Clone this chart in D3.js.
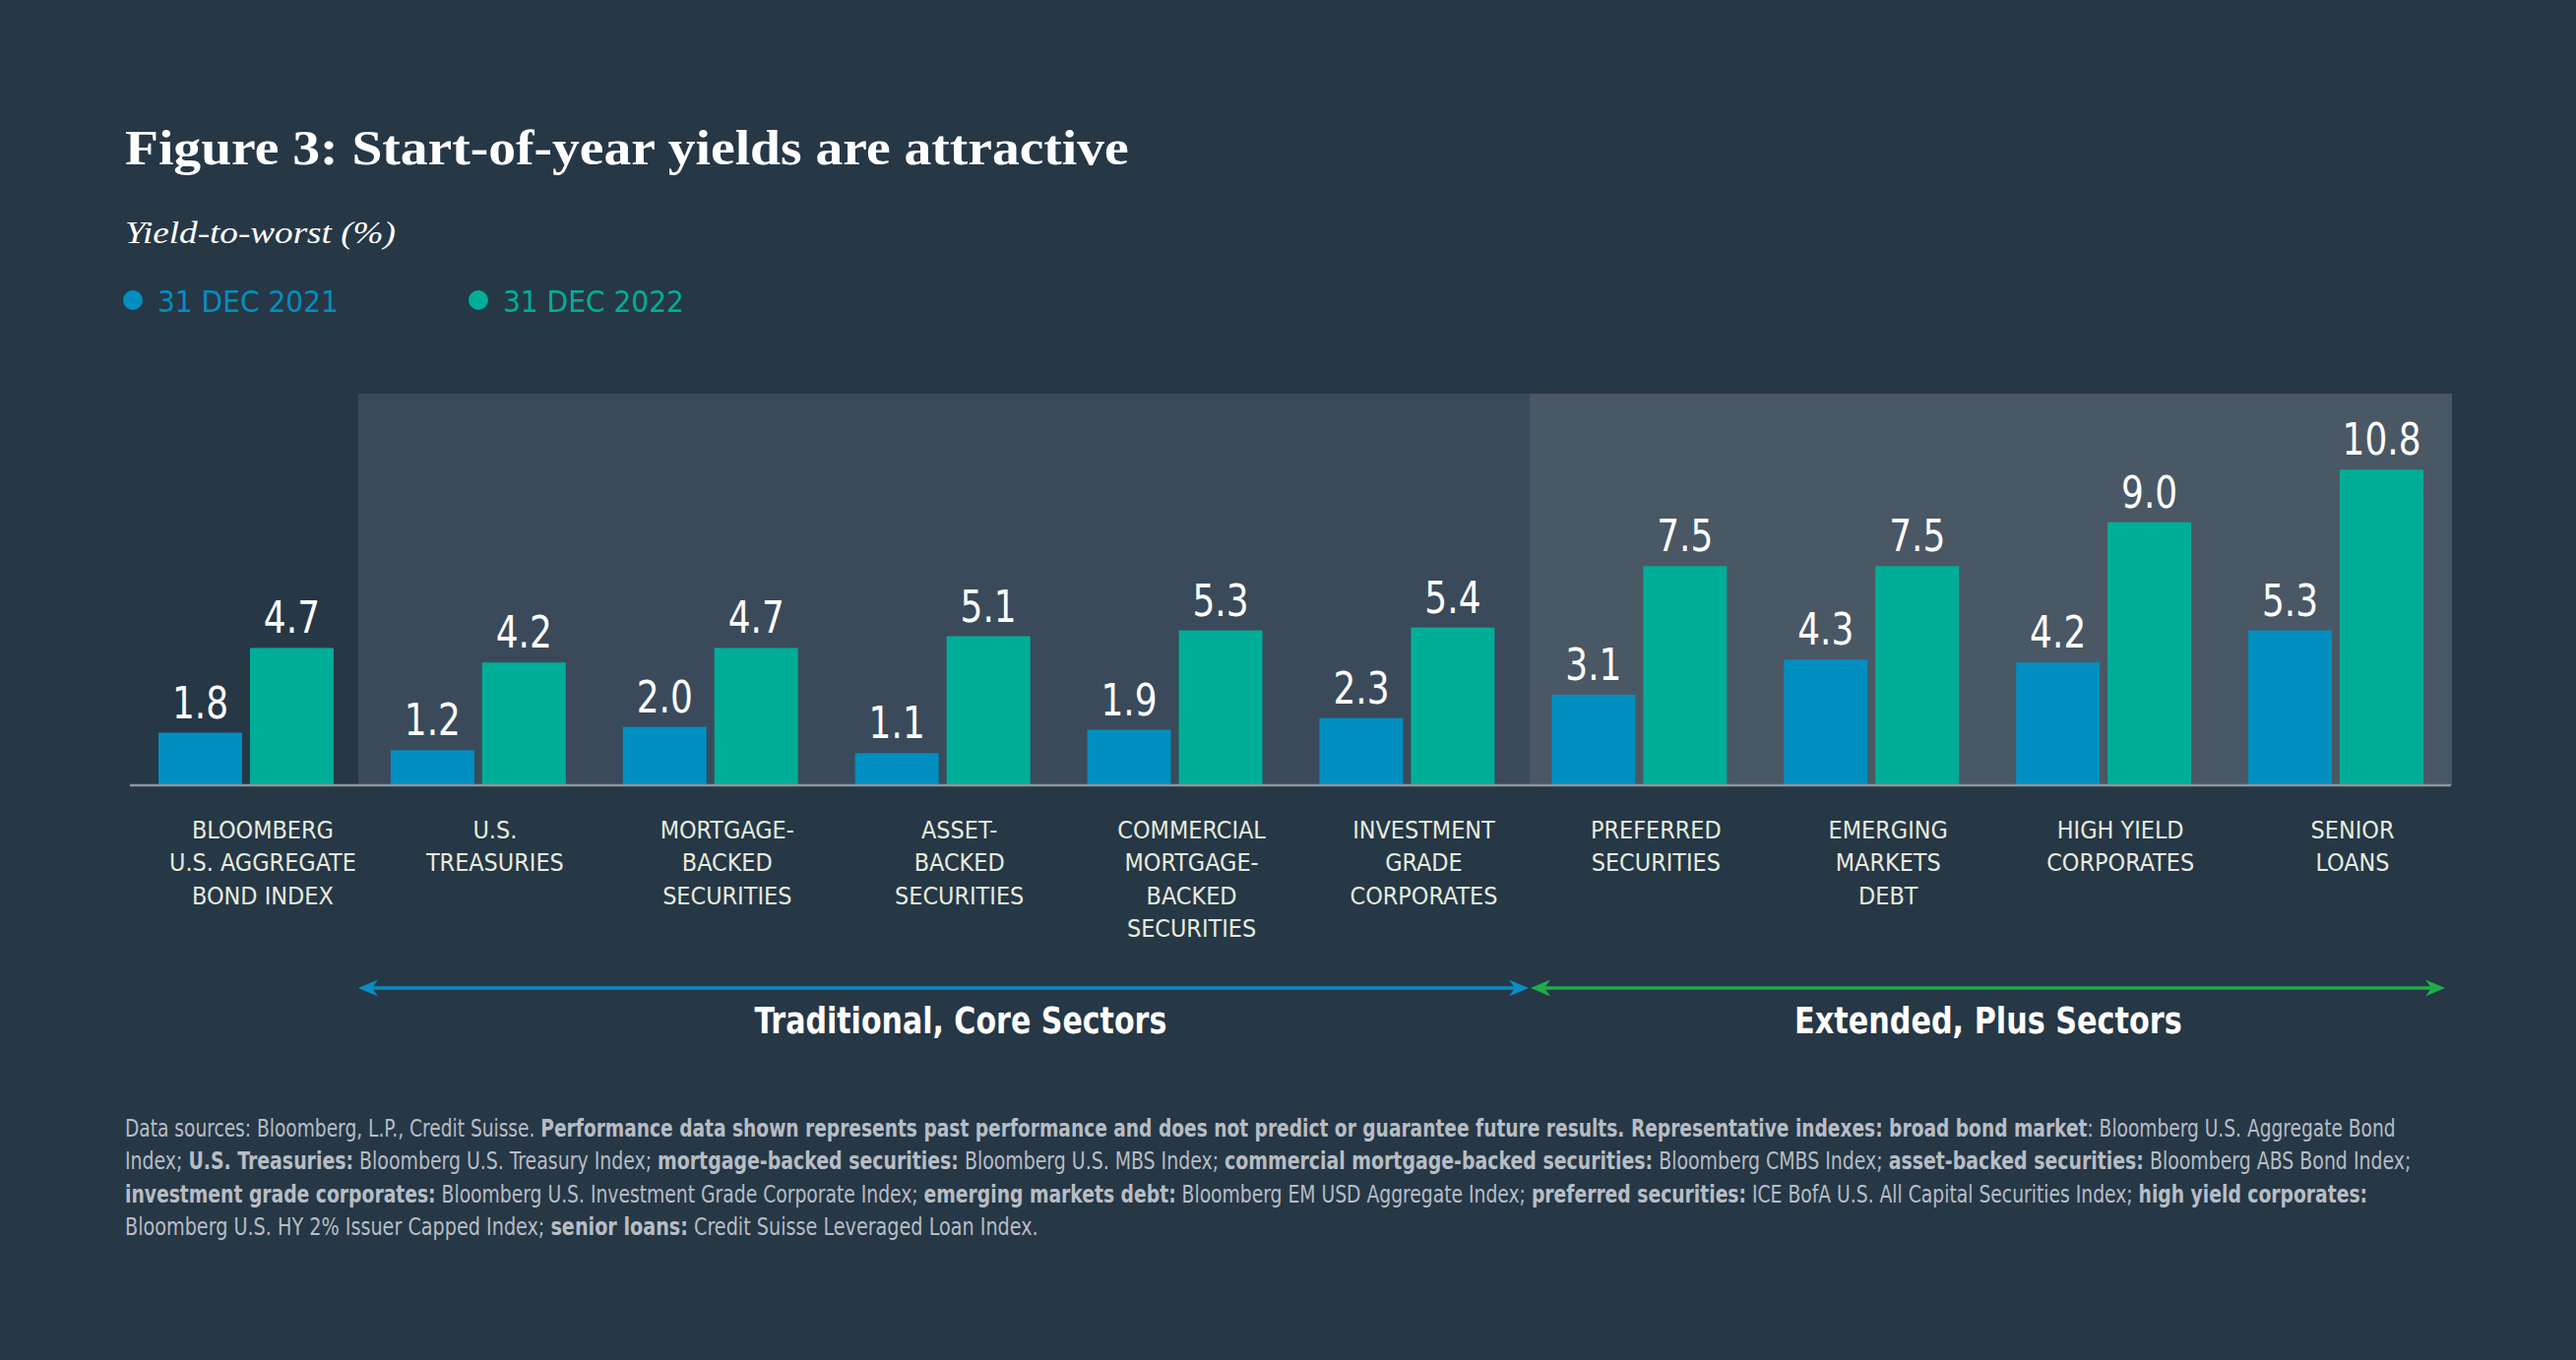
<!DOCTYPE html>
<html>
<head>
<meta charset="utf-8">
<script src="https://cdn.jsdelivr.net/npm/d3@7"></script>
<style>
  html, body { margin: 0; padding: 0; background: #263746; }
  svg { display: block; }
</style>
</head>
<body>
<div id="chart"></div>
<script>
// ---- data ----
var categories = [
  "Bloomberg U.S. Aggregate Bond Index", "U.S. Treasuries", "Mortgage-backed securities",
  "Asset-backed securities", "Commercial mortgage-backed securities", "Investment grade corporates",
  "Preferred securities", "Emerging markets debt", "High yield corporates", "Senior loans"
];
var categoryLines = [
  ["BLOOMBERG", "U.S. AGGREGATE", "BOND INDEX"],
  ["U.S.", "TREASURIES"],
  ["MORTGAGE-", "BACKED", "SECURITIES"],
  ["ASSET-", "BACKED", "SECURITIES"],
  ["COMMERCIAL", "MORTGAGE-", "BACKED", "SECURITIES"],
  ["INVESTMENT", "GRADE", "CORPORATES"],
  ["PREFERRED", "SECURITIES"],
  ["EMERGING", "MARKETS", "DEBT"],
  ["HIGH YIELD", "CORPORATES"],
  ["SENIOR", "LOANS"]
];
var seriesNames = ["31 DEC 2021", "31 DEC 2022"];
var yields2021 = [1.8, 1.2, 2.0, 1.1, 1.9, 2.3, 3.1, 4.3, 4.2, 5.3];
var yields2022 = [4.7, 4.2, 4.7, 5.1, 5.3, 5.4, 7.5, 7.5, 9.0, 10.8];

var sectorNames = ["Traditional, Core Sectors", "Extended, Plus Sectors"];
var sectorFirst = [1, 6];
var sectorLast = [5, 9];

var footnoteLines = [
  [["Data sources: Bloomberg, L.P., Credit Suisse. ", 0],
   ["Performance data shown represents past performance and does not predict or guarantee future results. Representative indexes: broad bond market", 1],
   [": Bloomberg U.S. Aggregate Bond", 0]],
  [["Index; ", 0], ["U.S. Treasuries:", 1], [" Bloomberg U.S. Treasury Index; ", 0],
   ["mortgage-backed securities:", 1], [" Bloomberg U.S. MBS Index; ", 0],
   ["commercial mortgage-backed securities:", 1], [" Bloomberg CMBS Index; ", 0],
   ["asset-backed securities:", 1], [" Bloomberg ABS Bond Index;", 0]],
  [["investment grade corporates:", 1], [" Bloomberg U.S. Investment Grade Corporate Index; ", 0],
   ["emerging markets debt:", 1], [" Bloomberg EM USD Aggregate Index; ", 0],
   ["preferred securities:", 1], [" ICE BofA U.S. All Capital Securities Index; ", 0],
   ["high yield corporates:", 1]],
  [["Bloomberg U.S. HY 2% Issuer Capped Index; ", 0], ["senior loans:", 1],
   [" Credit Suisse Leveraged Loan Index.", 0]]
];
var footnoteWidths = [2308, 2323, 2280, 928];

// ---- layout ----
var W = 2617, H = 1382;
var NARROW = '"Liberation Sans Narrow","DejaVu Sans Condensed","Roboto Condensed",Roboto,sans-serif';
var SERIF = '"Liberation Serif","DejaVu Serif",serif';
var barColors = ["#008fc0", "#00ae97"];
var arrowColors = ["#0a8cc4", "#1fad4b"];
var baseY = 798, topY = 400;

var svg = d3.select("#chart").append("svg")
  .attr("width", W)
  .attr("height", H);

svg.append("rect").attr("width", W).attr("height", H).attr("fill", "#263746");

// squeeze/stretch a text to a target width, anchored at x
function fit(sel, x, y, w) {
  var len = sel.node().getComputedTextLength();
  var k = len > 0 ? w / len : 1;
  sel.attr("x", 0).attr("y", 0)
    .attr("transform", "translate(" + x + "," + y + ") scale(" + k + ",1)");
}

// title + subtitle
var title = svg.append("text")
  .attr("fill", "#ffffff")
  .style("font-family", SERIF)
  .style("font-weight", "bold")
  .style("font-size", "50px")
  .text("Figure 3: Start-of-year yields are attractive");
fit(title, 127, 167, 1020);

var sub = svg.append("text")
  .attr("fill", "#ffffff")
  .style("font-family", SERIF)
  .style("font-style", "italic")
  .style("font-size", "32px")
  .text("Yield-to-worst (%)");
fit(sub, 127, 247, 275);

// legend
var legendX = [135, 486];
seriesNames.forEach(function(name, i) {
  svg.append("circle")
    .attr("cx", legendX[i]).attr("cy", 305).attr("r", 10)
    .attr("fill", barColors[i]);
  var t = svg.append("text")
    .attr("fill", barColors[i])
    .style("font-family", NARROW)
    .style("font-size", "31px")
    .text(name);
  fit(t, legendX[i] + 25, 317, 184);
});

// scales
var x0 = d3.scaleBand()
  .domain(categories)
  .range([132, 2491])
  .padding(0);

var x1 = d3.scaleBand()
  .domain(seriesNames)
  .range([0, x0.bandwidth()])
  .paddingInner(0.086)
  .paddingOuter(0.312);

var y = d3.scaleLinear()
  .domain([0, 13.4])
  .range([baseY, topY]);

// sector background bands
var bandFills = ["#3a4a5a", "#4a5764"];
var bandEdges = [364, 1554, x0(categories[sectorLast[1]]) + x0.step()];
sectorNames.forEach(function(s, i) {
  svg.append("rect")
    .attr("x", bandEdges[i]).attr("y", y(13.4))
    .attr("width", bandEdges[i + 1] - bandEdges[i])
    .attr("height", y(0) - y(13.4))
    .attr("fill", bandFills[i]);
});

// bars
var rows = categories.map(function(c, i) {
  return { cat: c, vals: [yields2021[i], yields2022[i]] };
});

var groups = svg.selectAll("g.group")
  .data(rows)
  .enter().append("g")
  .attr("class", "group")
  .attr("transform", function(d) { return "translate(" + x0(d.cat) + ",0)"; });

var bars = groups.selectAll("g.bar")
  .data(function(d) {
    return d.vals.map(function(v, j) { return { series: seriesNames[j], value: v, j: j }; });
  })
  .enter().append("g")
  .attr("class", "bar");

bars.append("rect")
  .attr("x", function(d) { return x1(d.series); })
  .attr("y", function(d) { return y(d.value); })
  .attr("width", x1.bandwidth())
  .attr("height", function(d) { return y(0) - y(d.value); })
  .attr("fill", function(d) { return barColors[d.j]; });

// value labels: compress to match the condensed look
var probe = svg.append("text").style("font-family", NARROW).style("font-size", "44px").text("10.8");
var kVal = 80 / probe.node().getComputedTextLength();
probe.remove();

bars.append("text")
  .attr("transform", function(d) {
    return "translate(" + (x1(d.series) + x1.bandwidth() / 2) + "," + (y(d.value) - 15) + ") scale(" + kVal + ",1)";
  })
  .attr("text-anchor", "middle")
  .attr("fill", "#ffffff")
  .style("font-family", NARROW)
  .style("font-size", "44px")
  .text(function(d) { return d3.format(".1f")(d.value); });

// baseline
svg.append("line")
  .attr("x1", 132).attr("x2", 2490)
  .attr("y1", baseY).attr("y2", baseY)
  .attr("stroke", "#8f969d")
  .attr("stroke-width", 2.5);

// category labels (sit a little right of the bar pair centre)
var probe2 = svg.append("text").style("font-family", NARROW).style("font-size", "25px").text("U.S. AGGREGATE");
var kCat = 190 / probe2.node().getComputedTextLength();
probe2.remove();

groups.each(function(d, i) {
  var g = d3.select(this);
  categoryLines[i].forEach(function(line, li) {
    g.append("text")
      .attr("transform", "translate(" + (x0.bandwidth() / 2 + 17) + "," + (852 + li * 33.4) + ") scale(" + kCat + ",1)")
      .attr("text-anchor", "middle")
      .attr("fill", "#e6ecdf")
      .style("font-family", NARROW)
      .style("font-size", "25px")
      .text(line);
  });
});

// sector arrows
var arrowY = 1004;
function head(tip, dir) {
  // dir: +1 points right, -1 points left
  return "M" + tip + "," + arrowY +
    "L" + (tip - dir * 20) + "," + (arrowY - 8.5) +
    "L" + (tip - dir * 14) + "," + arrowY +
    "L" + (tip - dir * 20) + "," + (arrowY + 8.5) + "Z";
}
var arrowSpans = [[364, 1553], [1555, 2484]];
var labelCenters = [976, 2020];
sectorNames.forEach(function(name, i) {
  var a = arrowSpans[i][0], b = arrowSpans[i][1];
  svg.append("line")
    .attr("x1", a + 14).attr("x2", b - 14)
    .attr("y1", arrowY).attr("y2", arrowY)
    .attr("stroke", arrowColors[i])
    .attr("stroke-width", 3.5);
  svg.append("path").attr("d", head(a, -1)).attr("fill", arrowColors[i]);
  svg.append("path").attr("d", head(b, 1)).attr("fill", arrowColors[i]);

  var t = svg.append("text")
    .attr("fill", "#ffffff")
    .style("font-family", NARROW)
    .style("font-weight", "bold")
    .style("font-size", "38px")
    .text(name);
  var w = i === 0 ? 419 : 394;
  fit(t, labelCenters[i] - w / 2, 1050, w);
});

// footnote
footnoteLines.forEach(function(segs, li) {
  var t = svg.append("text")
    .attr("fill", "#b7bdc4")
    .style("font-family", NARROW)
    .style("font-size", "25px");
  segs.forEach(function(s) {
    t.append("tspan")
      .style("font-weight", s[1] ? "bold" : "normal")
      .text(s[0]);
  });
  fit(t, 127, 1155 + li * 33.4, footnoteWidths[li]);
});
</script>
</body>
</html>
